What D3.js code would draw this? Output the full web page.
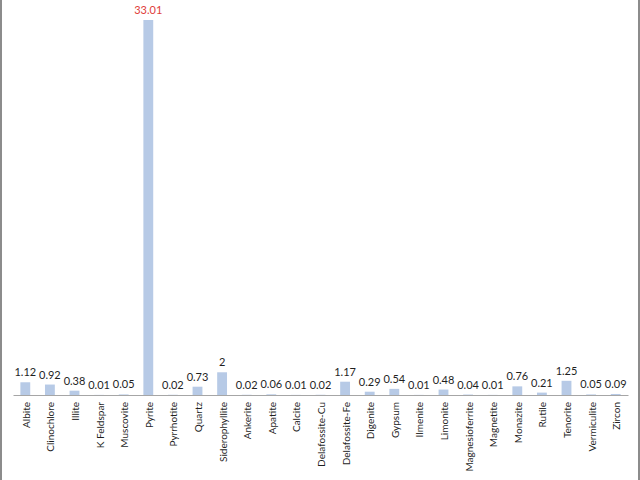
<!DOCTYPE html>
<html><head><meta charset="utf-8">
<script src="https://cdn.jsdelivr.net/npm/d3@7"></script>
<style>body{margin:0;background:#fff}svg{display:block}</style>
</head><body>
<script>
const categories = ["Albite","Clinochlore","Illite","K Feldspar","Muscovite","Pyrite","Pyrrhotite","Quartz","Siderophyllite","Ankerite","Apatite","Calcite","Delafossite-Cu","Delafossite-Fe","Digenite","Gypsum","Ilmenite","Limonite","Magnesioferrite","Magnetite","Monazite","Rutile","Tenorite","Vermiculite","Zircon"];
const values = [1.12,0.92,0.38,0.01,0.05,33.01,0.02,0.73,2,0.02,0.06,0.01,0.02,1.17,0.29,0.54,0.01,0.48,0.04,0.01,0.76,0.21,1.25,0.05,0.09];
const labels = ["1.12","0.92","0.38","0.01","0.05","33.01","0.02","0.73","2","0.02","0.06","0.01","0.02","1.17","0.29","0.54","0.01","0.48","0.04","0.01","0.76","0.21","1.25","0.05","0.09"];

const W = 640, H = 480;
const svg = d3.select("body").append("svg").attr("width", W).attr("height", H);

svg.append("rect").attr("x",0).attr("y",0).attr("width",W).attr("height",H).attr("fill","#fff");
svg.append("line").attr("x1",1).attr("x2",1).attr("y1",0).attr("y2",H).attr("stroke","#8c8c8c").attr("stroke-width",2);
svg.append("line").attr("x1",639).attr("x2",639).attr("y1",0).attr("y2",H).attr("stroke","#8c8c8c").attr("stroke-width",2);

const x = d3.scaleBand().domain(categories).range([13, 628]).paddingInner(0.6).paddingOuter(0.3);
const y = d3.scaleLinear().domain([0, 33.01]).range([395, 20]);

const g = svg.append("g");
g.selectAll("rect.bar").data(values).join("rect")
  .attr("class","bar")
  .attr("x",(d,i)=>x(categories[i]))
  .attr("y",d=>y(d))
  .attr("width",x.bandwidth())
  .attr("height",d=>y(0)-y(d))
  .attr("fill","#b7cae6");

g.selectAll("text.val").data(values).join("text")
  .attr("class","val")
  .attr("x",(d,i)=>x(categories[i])+x.bandwidth()/2)
  .attr("y",d=>y(d)-6)
  .attr("text-anchor","middle")
  .attr("font-family","Lato, 'Open Sans', sans-serif")
  .attr("font-size",11)
  .attr("fill",(d,i)=>i===5?"#e0403a":"#1f1f1f")
  .text((d,i)=>labels[i]);

const axis = d3.axisBottom(x).tickSize(0).tickPadding(0);
const ax = svg.append("g").attr("transform","translate(0,395)").call(axis);
ax.select(".domain").attr("stroke","#a6a6a6").attr("stroke-width",1);
ax.selectAll(".tick text")
  .attr("font-family","Lato, 'Open Sans', sans-serif")
  .attr("font-size",10)
  .attr("fill","#1f1f1f")
  .attr("text-anchor","end")
  .attr("dy","0.35em")
  .attr("transform","translate(1,7) rotate(-90)")
  .attr("x",0).attr("y",0);
</script>
</body></html>
